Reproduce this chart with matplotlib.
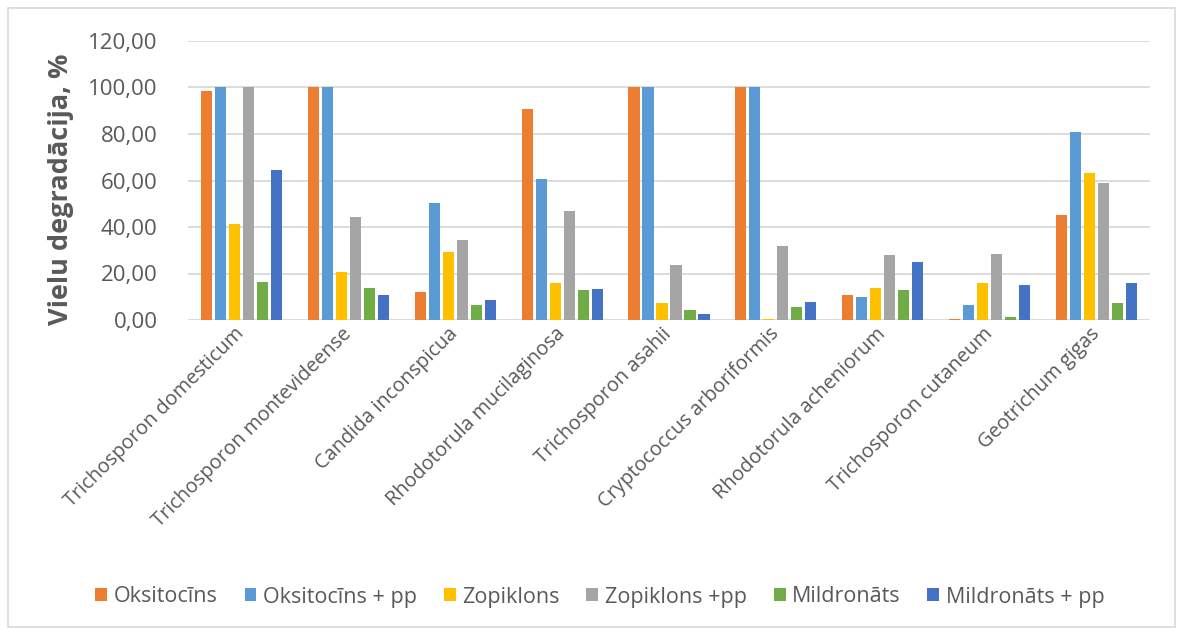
import matplotlib
matplotlib.use("Agg")
import matplotlib.pyplot as plt
from matplotlib.patches import Rectangle, Patch
import numpy as np

plt.rcParams['font.family'] = ['Open Sans', 'DejaVu Sans']

categories = ["Trichosporon domesticum", "Trichosporon montevideense", "Candida inconspicua",
              "Rhodotorula mucilaginosa", "Trichosporon asahii", "Cryptococcus arboriformis",
              "Rhodotorula acheniorum", "Trichosporon cutaneum", "Geotrichum gigas"]
series_names = ["Oksitocīns", "Oksitocīns + pp", "Zopiklons", "Zopiklons +pp", "Mildronāts", "Mildronāts + pp"]
oksitocins = [98.6, 100.0, 12.2, 90.7, 100.0, 100.0, 10.9, 0.6, 45.0]
oksitocins_pp = [100.0, 100.0, 50.4, 60.8, 100.0, 100.0, 9.8, 6.6, 80.9]
zopiklons = [41.3, 20.7, 29.3, 15.9, 7.3, 0.6, 13.9, 15.9, 63.3]
zopiklons_pp = [100.0, 44.5, 34.6, 46.9, 23.7, 31.7, 28.0, 28.6, 59.0]
mildronats = [16.5, 13.9, 6.6, 12.8, 4.3, 5.5, 12.8, 1.3, 7.3]
mildronats_pp = [64.6, 10.9, 8.6, 13.3, 2.4, 7.9, 25.0, 15.2, 15.9]
series = [oksitocins, oksitocins_pp, zopiklons, zopiklons_pp, mildronats, mildronats_pp]
colors = ["#ED7D31", "#5B9BD5", "#FFC000", "#A5A5A5", "#70AD47", "#4472C4"]
yticks = [0, 20, 40, 60, 80, 100, 120]

W, H = 1183, 635
fig = plt.figure(figsize=(W / 100, H / 100), dpi=100)
fig.patches.append(Rectangle((8 / W, 8 / H), 1167 / W, 619 / H, transform=fig.transFigure,
                             fill=False, edgecolor="#D9D9D9", linewidth=1.2))

ax = fig.add_axes([188 / W, (H - 320) / H, 962 / W, (320 - 41) / H])
x = np.arange(len(categories))
step = 0.131
for j, (vals, c) in enumerate(zip(series, colors)):
    ax.bar(x + (j - 2.5) * step, vals, width=step * 0.79, color=c, linewidth=0, zorder=3)

ax.set_xlim(-0.5, len(categories) - 0.5)
ax.set_ylim(0, 120)
ax.set_yticks(yticks)
ax.set_yticklabels([f"{v:.2f}".replace(".", ",") for v in yticks], color="#595959", fontsize=16)
ax.yaxis.grid(True, color="#D9D9D9", linewidth=1.3, zorder=0)
ax.set_axisbelow(True)
for s in ax.spines.values():
    s.set_visible(False)
ax.tick_params(axis="y", length=0, pad=22)
ax.tick_params(axis="x", length=0, pad=8)
ax.set_xticks(x)
ax.set_xticklabels(categories, rotation=45, ha="right", va="center", rotation_mode="anchor",
                   color="#595959", fontsize=14.3)
ax.set_ylabel("Vielu degradācija, %", fontsize=19.5, fontweight="bold", color="#595959")
ax.yaxis.set_label_coords(-0.118, 0.47)

handles = [Patch(facecolor=c, edgecolor="none") for c in colors]
fig.legend(handles, series_names, loc="center", bbox_to_anchor=(600 / W, 1 - 597 / H), ncol=6,
           frameon=False, fontsize=15.5, handlelength=0.55, handleheight=0.55, handletextpad=0.3,
           columnspacing=1.25, labelcolor="#595959")

fig.savefig("out.png", dpi=100)
